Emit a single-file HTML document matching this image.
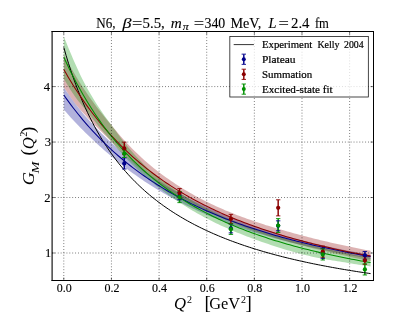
<!DOCTYPE html>
<html><head><meta charset="utf-8"><title>chart</title>
<style>html,body{margin:0;padding:0;background:#fff}svg{display:block;will-change:transform}text{fill:#000;stroke:#000;stroke-width:0.13px}.lg text{stroke-width:0.2px}.t text{stroke-width:0.1px}.ax text,text.ax{stroke-width:0}</style></head>
<body>
<svg width="415" height="312" viewBox="0 0 415 312">
<rect width="415" height="312" fill="#fff"/>
<clipPath id="c"><rect x="52.0" y="31.5" width="321.5" height="249.0"/></clipPath>
<g clip-path="url(#c)">
<path d="M63.79,87.37 L66.17,90.88 L68.55,94.34 L70.92,97.72 L73.30,101.02 L75.68,104.22 L78.06,107.31 L80.44,110.27 L82.82,113.13 L85.19,115.91 L87.57,118.62 L89.95,121.27 L92.33,123.86 L94.71,126.39 L97.09,128.86 L99.46,131.28 L101.84,133.65 L104.22,135.97 L106.60,138.25 L108.98,140.49 L111.36,142.70 L113.73,144.87 L116.11,147.02 L118.49,149.16 L120.87,151.27 L123.25,153.36 L125.63,155.43 L128.00,157.47 L130.38,159.48 L132.76,161.46 L135.14,163.42 L137.52,165.34 L139.90,167.23 L142.27,169.09 L144.65,170.91 L147.03,172.69 L149.41,174.44 L151.79,176.14 L154.17,177.80 L156.54,179.41 L158.92,180.98 L161.30,182.51 L163.68,184.01 L166.06,185.48 L168.44,186.92 L170.81,188.33 L173.19,189.72 L175.57,191.08 L177.95,192.42 L180.33,193.73 L182.71,195.02 L185.08,196.29 L187.46,197.54 L189.84,198.77 L192.22,199.98 L194.60,201.17 L196.98,202.34 L199.35,203.49 L201.73,204.63 L204.11,205.75 L206.49,206.86 L208.87,207.95 L211.25,209.03 L213.62,210.10 L216.00,211.15 L218.38,212.19 L220.76,213.22 L223.14,214.23 L225.51,215.22 L227.89,216.21 L230.27,217.18 L232.65,218.13 L235.03,219.07 L237.41,220.00 L239.78,220.91 L242.16,221.81 L244.54,222.69 L246.92,223.55 L249.30,224.41 L251.68,225.24 L254.05,226.07 L256.43,226.87 L258.81,227.67 L261.19,228.45 L263.57,229.23 L265.95,229.99 L268.32,230.74 L270.70,231.48 L273.08,232.21 L275.46,232.93 L277.84,233.64 L280.22,234.34 L282.59,235.03 L284.97,235.71 L287.35,236.38 L289.73,237.04 L292.11,237.69 L294.49,238.33 L296.86,238.97 L299.24,239.59 L301.62,240.21 L304.00,240.82 L306.38,241.41 L308.76,242.00 L311.13,242.59 L313.51,243.16 L315.89,243.73 L318.27,244.29 L320.65,244.84 L323.03,245.38 L325.40,245.92 L327.78,246.45 L330.16,246.97 L332.54,247.48 L334.92,247.99 L337.30,248.49 L339.67,248.98 L342.05,249.47 L344.43,249.95 L346.81,250.43 L349.19,250.90 L351.57,251.36 L353.94,251.82 L356.32,252.28 L358.70,252.72 L361.08,253.17 L363.46,253.60 L365.83,254.04 L368.21,254.47 L370.59,254.89 L370.59,258.77 L368.21,258.38 L365.83,257.97 L363.46,257.57 L361.08,257.15 L358.70,256.74 L356.32,256.31 L353.94,255.88 L351.57,255.45 L349.19,255.01 L346.81,254.57 L344.43,254.12 L342.05,253.66 L339.67,253.20 L337.30,252.73 L334.92,252.26 L332.54,251.78 L330.16,251.30 L327.78,250.81 L325.40,250.32 L323.03,249.81 L320.65,249.31 L318.27,248.80 L315.89,248.28 L313.51,247.76 L311.13,247.23 L308.76,246.69 L306.38,246.15 L304.00,245.61 L301.62,245.05 L299.24,244.49 L296.86,243.92 L294.49,243.35 L292.11,242.76 L289.73,242.17 L287.35,241.57 L284.97,240.96 L282.59,240.34 L280.22,239.72 L277.84,239.08 L275.46,238.44 L273.08,237.79 L270.70,237.12 L268.32,236.45 L265.95,235.76 L263.57,235.07 L261.19,234.36 L258.81,233.65 L256.43,232.92 L254.05,232.18 L251.68,231.42 L249.30,230.66 L246.92,229.88 L244.54,229.09 L242.16,228.29 L239.78,227.47 L237.41,226.65 L235.03,225.81 L232.65,224.95 L230.27,224.09 L227.89,223.20 L225.51,222.31 L223.14,221.40 L220.76,220.48 L218.38,219.54 L216.00,218.59 L213.62,217.62 L211.25,216.64 L208.87,215.65 L206.49,214.63 L204.11,213.60 L201.73,212.56 L199.35,211.49 L196.98,210.41 L194.60,209.31 L192.22,208.20 L189.84,207.06 L187.46,205.90 L185.08,204.73 L182.71,203.53 L180.33,202.32 L177.95,201.08 L175.57,199.83 L173.19,198.55 L170.81,197.25 L168.44,195.93 L166.06,194.59 L163.68,193.22 L161.30,191.83 L158.92,190.42 L156.54,188.98 L154.17,187.52 L151.79,186.03 L149.41,184.52 L147.03,182.98 L144.65,181.41 L142.27,179.81 L139.90,178.19 L137.52,176.54 L135.14,174.86 L132.76,173.15 L130.38,171.41 L128.00,169.63 L125.63,167.83 L123.25,165.99 L120.87,164.12 L118.49,162.22 L116.11,160.28 L113.73,158.30 L111.36,156.29 L108.98,154.25 L106.60,152.20 L104.22,150.13 L101.84,148.04 L99.46,145.92 L97.09,143.76 L94.71,141.58 L92.33,139.35 L89.95,137.07 L87.57,134.75 L85.19,132.40 L82.82,130.04 L80.44,127.65 L78.06,125.23 L75.68,122.77 L73.30,120.24 L70.92,117.66 L68.55,114.99 L66.17,112.24 L63.79,109.39Z" fill="#00008B" fill-opacity="0.3"/>
<path d="M63.79,54.69 L66.17,59.11 L68.55,63.42 L70.92,67.64 L73.30,71.75 L75.68,75.77 L78.06,79.69 L80.44,83.50 L82.82,87.22 L85.19,90.84 L87.57,94.36 L89.95,97.78 L92.33,101.10 L94.71,104.33 L97.09,107.47 L99.46,110.55 L101.84,113.56 L104.22,116.51 L106.60,119.42 L108.98,122.29 L111.36,125.12 L113.73,127.97 L116.11,130.84 L118.49,133.69 L120.87,136.49 L123.25,139.18 L125.63,141.76 L128.00,144.28 L130.38,146.74 L132.76,149.15 L135.14,151.51 L137.52,153.82 L139.90,156.08 L142.27,158.28 L144.65,160.43 L147.03,162.53 L149.41,164.57 L151.79,166.56 L154.17,168.49 L156.54,170.37 L158.92,172.19 L161.30,173.97 L163.68,175.71 L166.06,177.42 L168.44,179.09 L170.81,180.73 L173.19,182.34 L175.57,183.92 L177.95,185.47 L180.33,186.98 L182.71,188.47 L185.08,189.92 L187.46,191.35 L189.84,192.74 L192.22,194.11 L194.60,195.44 L196.98,196.75 L199.35,198.03 L201.73,199.28 L204.11,200.50 L206.49,201.70 L208.87,202.86 L211.25,204.00 L213.62,205.12 L216.00,206.22 L218.38,207.29 L220.76,208.34 L223.14,209.37 L225.51,210.38 L227.89,211.37 L230.27,212.34 L232.65,213.29 L235.03,214.23 L237.41,215.15 L239.78,216.05 L242.16,216.94 L244.54,217.82 L246.92,218.68 L249.30,219.53 L251.68,220.37 L254.05,221.20 L256.43,222.01 L258.81,222.81 L261.19,223.60 L263.57,224.37 L265.95,225.13 L268.32,225.87 L270.70,226.61 L273.08,227.33 L275.46,228.04 L277.84,228.74 L280.22,229.43 L282.59,230.11 L284.97,230.79 L287.35,231.45 L289.73,232.11 L292.11,232.77 L294.49,233.42 L296.86,234.06 L299.24,234.70 L301.62,235.33 L304.00,235.96 L306.38,236.58 L308.76,237.19 L311.13,237.80 L313.51,238.40 L315.89,238.99 L318.27,239.58 L320.65,240.16 L323.03,240.73 L325.40,241.29 L327.78,241.85 L330.16,242.40 L332.54,242.95 L334.92,243.49 L337.30,244.02 L339.67,244.54 L342.05,245.06 L344.43,245.58 L346.81,246.08 L349.19,246.58 L351.57,247.08 L353.94,247.56 L356.32,248.04 L358.70,248.52 L361.08,248.99 L363.46,249.45 L365.83,249.91 L368.21,250.36 L370.59,250.80 L370.59,261.06 L368.21,260.60 L365.83,260.13 L363.46,259.65 L361.08,259.17 L358.70,258.67 L356.32,258.17 L353.94,257.67 L351.57,257.16 L349.19,256.64 L346.81,256.12 L344.43,255.59 L342.05,255.06 L339.67,254.52 L337.30,253.98 L334.92,253.44 L332.54,252.89 L330.16,252.34 L327.78,251.79 L325.40,251.23 L323.03,250.67 L320.65,250.11 L318.27,249.54 L315.89,248.97 L313.51,248.39 L311.13,247.80 L308.76,247.20 L306.38,246.60 L304.00,245.99 L301.62,245.38 L299.24,244.75 L296.86,244.12 L294.49,243.48 L292.11,242.83 L289.73,242.17 L287.35,241.50 L284.97,240.82 L282.59,240.13 L280.22,239.42 L277.84,238.71 L275.46,237.99 L273.08,237.25 L270.70,236.51 L268.32,235.75 L265.95,234.97 L263.57,234.19 L261.19,233.39 L258.81,232.57 L256.43,231.75 L254.05,230.90 L251.68,230.04 L249.30,229.17 L246.92,228.27 L244.54,227.36 L242.16,226.44 L239.78,225.49 L237.41,224.53 L235.03,223.56 L232.65,222.56 L230.27,221.55 L227.89,220.53 L225.51,219.49 L223.14,218.43 L220.76,217.35 L218.38,216.26 L216.00,215.16 L213.62,214.04 L211.25,212.90 L208.87,211.74 L206.49,210.57 L204.11,209.39 L201.73,208.21 L199.35,207.01 L196.98,205.81 L194.60,204.59 L192.22,203.36 L189.84,202.11 L187.46,200.84 L185.08,199.55 L182.71,198.24 L180.33,196.90 L177.95,195.53 L175.57,194.13 L173.19,192.70 L170.81,191.24 L168.44,189.73 L166.06,188.19 L163.68,186.60 L161.30,184.97 L158.92,183.29 L156.54,181.57 L154.17,179.82 L151.79,178.03 L149.41,176.21 L147.03,174.34 L144.65,172.45 L142.27,170.51 L139.90,168.53 L137.52,166.51 L135.14,164.45 L132.76,162.34 L130.38,160.19 L128.00,158.00 L125.63,155.75 L123.25,153.46 L120.87,151.14 L118.49,148.79 L116.11,146.40 L113.73,143.97 L111.36,141.49 L108.98,139.06 L106.60,136.72 L104.22,134.42 L101.84,132.11 L99.46,129.74 L97.09,127.35 L94.71,124.99 L92.33,122.60 L89.95,120.18 L87.57,117.67 L85.19,115.12 L82.82,112.55 L80.44,109.89 L78.06,107.12 L75.68,104.16 L73.30,101.03 L70.92,97.75 L68.55,94.34 L66.17,90.82 L63.79,87.20Z" fill="#8B0000" fill-opacity="0.3"/>
<path d="M63.79,36.39 L66.17,42.31 L68.55,48.14 L70.92,53.85 L73.30,59.42 L75.68,64.84 L78.06,70.09 L80.44,75.14 L82.82,79.98 L85.19,84.59 L87.57,88.95 L89.95,93.09 L92.33,97.08 L94.71,100.92 L97.09,104.64 L99.46,108.25 L101.84,111.76 L104.22,115.19 L106.60,118.55 L108.98,121.85 L111.36,125.11 L113.73,128.35 L116.11,131.56 L118.49,134.74 L120.87,137.88 L123.25,140.96 L125.63,143.98 L128.00,146.92 L130.38,149.78 L132.76,152.54 L135.14,155.20 L137.52,157.77 L139.90,160.30 L142.27,162.77 L144.65,165.19 L147.03,167.54 L149.41,169.82 L151.79,172.02 L154.17,174.13 L156.54,176.16 L158.92,178.08 L161.30,179.93 L163.68,181.74 L166.06,183.50 L168.44,185.23 L170.81,186.93 L173.19,188.58 L175.57,190.20 L177.95,191.78 L180.33,193.34 L182.71,194.85 L185.08,196.34 L187.46,197.80 L189.84,199.22 L192.22,200.61 L194.60,201.98 L196.98,203.32 L199.35,204.63 L201.73,205.91 L204.11,207.17 L206.49,208.41 L208.87,209.61 L211.25,210.79 L213.62,211.95 L216.00,213.08 L218.38,214.19 L220.76,215.27 L223.14,216.33 L225.51,217.37 L227.89,218.39 L230.27,219.40 L232.65,220.38 L235.03,221.34 L237.41,222.29 L239.78,223.23 L242.16,224.15 L244.54,225.05 L246.92,225.94 L249.30,226.82 L251.68,227.69 L254.05,228.54 L256.43,229.38 L258.81,230.21 L261.19,231.03 L263.57,231.83 L265.95,232.62 L268.32,233.39 L270.70,234.16 L273.08,234.91 L275.46,235.65 L277.84,236.37 L280.22,237.09 L282.59,237.79 L284.97,238.48 L287.35,239.16 L289.73,239.83 L292.11,240.49 L294.49,241.15 L296.86,241.79 L299.24,242.42 L301.62,243.04 L304.00,243.65 L306.38,244.25 L308.76,244.84 L311.13,245.43 L313.51,246.00 L315.89,246.57 L318.27,247.13 L320.65,247.68 L323.03,248.22 L325.40,248.76 L327.78,249.29 L330.16,249.81 L332.54,250.33 L334.92,250.85 L337.30,251.36 L339.67,251.86 L342.05,252.36 L344.43,252.85 L346.81,253.34 L349.19,253.82 L351.57,254.30 L353.94,254.77 L356.32,255.23 L358.70,255.69 L361.08,256.14 L363.46,256.58 L365.83,257.02 L368.21,257.45 L370.59,257.87 L370.59,266.47 L368.21,266.12 L365.83,265.77 L363.46,265.41 L361.08,265.04 L358.70,264.67 L356.32,264.30 L353.94,263.91 L351.57,263.53 L349.19,263.14 L346.81,262.76 L344.43,262.37 L342.05,261.99 L339.67,261.61 L337.30,261.22 L334.92,260.83 L332.54,260.44 L330.16,260.04 L327.78,259.63 L325.40,259.21 L323.03,258.78 L320.65,258.34 L318.27,257.88 L315.89,257.41 L313.51,256.91 L311.13,256.40 L308.76,255.87 L306.38,255.31 L304.00,254.74 L301.62,254.13 L299.24,253.51 L296.86,252.87 L294.49,252.21 L292.11,251.54 L289.73,250.86 L287.35,250.16 L284.97,249.44 L282.59,248.72 L280.22,247.98 L277.84,247.23 L275.46,246.47 L273.08,245.69 L270.70,244.90 L268.32,244.10 L265.95,243.29 L263.57,242.47 L261.19,241.64 L258.81,240.79 L256.43,239.94 L254.05,239.08 L251.68,238.20 L249.30,237.31 L246.92,236.41 L244.54,235.49 L242.16,234.56 L239.78,233.61 L237.41,232.65 L235.03,231.67 L232.65,230.67 L230.27,229.65 L227.89,228.62 L225.51,227.57 L223.14,226.49 L220.76,225.40 L218.38,224.29 L216.00,223.15 L213.62,222.00 L211.25,220.82 L208.87,219.62 L206.49,218.39 L204.11,217.14 L201.73,215.85 L199.35,214.54 L196.98,213.21 L194.60,211.84 L192.22,210.45 L189.84,209.02 L187.46,207.57 L185.08,206.09 L182.71,204.58 L180.33,203.04 L177.95,201.47 L175.57,199.87 L173.19,198.24 L170.81,196.58 L168.44,194.88 L166.06,193.16 L163.68,191.40 L161.30,189.61 L158.92,187.79 L156.54,185.93 L154.17,184.03 L151.79,182.09 L149.41,180.11 L147.03,178.08 L144.65,176.01 L142.27,173.90 L139.90,171.74 L137.52,169.52 L135.14,167.26 L132.76,164.95 L130.38,162.58 L128.00,160.16 L125.63,157.68 L123.25,155.14 L120.87,152.54 L118.49,149.88 L116.11,147.15 L113.73,144.35 L111.36,141.49 L108.98,138.63 L106.60,135.83 L104.22,133.05 L101.84,130.23 L99.46,127.33 L97.09,124.36 L94.71,121.37 L92.33,118.36 L89.95,115.32 L87.57,112.26 L85.19,109.30 L82.82,106.45 L80.44,103.61 L78.06,100.67 L75.68,97.49 L73.30,94.08 L70.92,90.50 L68.55,86.76 L66.17,82.87 L63.79,78.82Z" fill="#009000" fill-opacity="0.3"/>
<line x1="124.29" y1="157.87" x2="124.29" y2="168.96" stroke="#00008B" stroke-width="1.45"/>
<line x1="179.56" y1="192.48" x2="179.56" y2="199.69" stroke="#00008B" stroke-width="1.45"/>
<line x1="230.91" y1="223.99" x2="230.91" y2="232.86" stroke="#00008B" stroke-width="1.45"/>
<line x1="278.17" y1="220.83" x2="278.17" y2="230.81" stroke="#00008B" stroke-width="1.45"/>
<line x1="322.78" y1="248.34" x2="322.78" y2="258.33" stroke="#00008B" stroke-width="1.45"/>
<line x1="364.87" y1="251.45" x2="364.87" y2="259.21" stroke="#00008B" stroke-width="1.45"/>
<line x1="124.29" y1="142.17" x2="124.29" y2="154.60" stroke="#8B0000" stroke-width="1.45"/>
<line x1="179.56" y1="188.54" x2="179.56" y2="197.64" stroke="#8B0000" stroke-width="1.45"/>
<line x1="230.91" y1="214.39" x2="230.91" y2="223.49" stroke="#8B0000" stroke-width="1.45"/>
<line x1="278.17" y1="199.80" x2="278.17" y2="215.89" stroke="#8B0000" stroke-width="1.45"/>
<line x1="322.78" y1="246.07" x2="322.78" y2="257.16" stroke="#8B0000" stroke-width="1.45"/>
<line x1="364.87" y1="256.55" x2="364.87" y2="264.32" stroke="#8B0000" stroke-width="1.45"/>
<line x1="124.29" y1="149.71" x2="124.29" y2="157.48" stroke="#009000" stroke-width="1.45"/>
<line x1="179.56" y1="191.54" x2="179.56" y2="202.63" stroke="#009000" stroke-width="1.45"/>
<line x1="230.91" y1="223.88" x2="230.91" y2="234.42" stroke="#009000" stroke-width="1.45"/>
<line x1="278.17" y1="218.61" x2="278.17" y2="232.48" stroke="#009000" stroke-width="1.45"/>
<line x1="322.78" y1="248.90" x2="322.78" y2="259.99" stroke="#009000" stroke-width="1.45"/>
<line x1="364.87" y1="263.87" x2="364.87" y2="274.97" stroke="#009000" stroke-width="1.45"/>
<path d="M63.79,47.43 L66.17,55.68 L68.55,63.45 L70.92,70.79 L73.30,77.73 L75.68,84.31 L78.06,90.56 L80.44,96.50 L82.82,102.14 L85.19,107.53 L87.57,112.67 L89.95,117.57 L92.33,122.27 L94.71,126.76 L97.09,131.07 L99.46,135.20 L101.84,139.16 L104.22,142.97 L106.60,146.64 L108.98,150.17 L111.36,153.56 L113.73,156.84 L116.11,160.00 L118.49,163.05 L120.87,165.99 L123.25,168.84 L125.63,171.59 L128.00,174.25 L130.38,176.83 L132.76,179.33 L135.14,181.74 L137.52,184.09 L139.90,186.37 L142.27,188.57 L144.65,190.72 L147.03,192.80 L149.41,194.82 L151.79,196.79 L154.17,198.70 L156.54,200.56 L158.92,202.38 L161.30,204.14 L163.68,205.86 L166.06,207.53 L168.44,209.16 L170.81,210.75 L173.19,212.30 L175.57,213.81 L177.95,215.28 L180.33,216.72 L182.71,218.13 L185.08,219.50 L187.46,220.84 L189.84,222.15 L192.22,223.43 L194.60,224.68 L196.98,225.90 L199.35,227.10 L201.73,228.26 L204.11,229.41 L206.49,230.53 L208.87,231.62 L211.25,232.69 L213.62,233.74 L216.00,234.77 L218.38,235.78 L220.76,236.77 L223.14,237.73 L225.51,238.68 L227.89,239.61 L230.27,240.52 L232.65,241.41 L235.03,242.28 L237.41,243.14 L239.78,243.98 L242.16,244.81 L244.54,245.62 L246.92,246.41 L249.30,247.19 L251.68,247.96 L254.05,248.71 L256.43,249.45 L258.81,250.17 L261.19,250.88 L263.57,251.58 L265.95,252.27 L268.32,252.94 L270.70,253.61 L273.08,254.26 L275.46,254.90 L277.84,255.53 L280.22,256.14 L282.59,256.75 L284.97,257.35 L287.35,257.94 L289.73,258.51 L292.11,259.08 L294.49,259.64 L296.86,260.19 L299.24,260.73 L301.62,261.26 L304.00,261.79 L306.38,262.30 L308.76,262.81 L311.13,263.31 L313.51,263.80 L315.89,264.28 L318.27,264.76 L320.65,265.23 L323.03,265.69 L325.40,266.14 L327.78,266.59 L330.16,267.03 L332.54,267.46 L334.92,267.89 L337.30,268.31 L339.67,268.73 L342.05,269.14 L344.43,269.54 L346.81,269.94 L349.19,270.33 L351.57,270.71 L353.94,271.09 L356.32,271.46 L358.70,271.83 L361.08,272.20 L363.46,272.56 L365.83,272.91 L368.21,273.26 L370.59,273.60" fill="none" stroke="#000" stroke-width="1.0"/>
<path d="M63.79,94.97 L66.17,98.33 L68.55,101.61 L70.92,104.82 L73.30,107.95 L75.68,111.01 L78.06,114.01 L80.44,116.93 L82.82,119.79 L85.19,122.58 L87.57,125.32 L89.95,127.99 L92.33,130.61 L94.71,133.17 L97.09,135.67 L99.46,138.12 L101.84,140.52 L104.22,142.87 L106.60,145.17 L108.98,147.42 L111.36,149.63 L113.73,151.79 L116.11,153.91 L118.49,155.98 L120.87,158.02 L123.25,160.01 L125.63,161.96 L128.00,163.88 L130.38,165.75 L132.76,167.60 L135.14,169.40 L137.52,171.17 L139.90,172.91 L142.27,174.62 L144.65,176.29 L147.03,177.93 L149.41,179.54 L151.79,181.13 L154.17,182.68 L156.54,184.20 L158.92,185.70 L161.30,187.17 L163.68,188.62 L166.06,190.03 L168.44,191.43 L170.81,192.80 L173.19,194.14 L175.57,195.46 L177.95,196.76 L180.33,198.04 L182.71,199.29 L185.08,200.53 L187.46,201.74 L189.84,202.93 L192.22,204.11 L194.60,205.26 L196.98,206.39 L199.35,207.51 L201.73,208.61 L204.11,209.69 L206.49,210.75 L208.87,211.79 L211.25,212.82 L213.62,213.83 L216.00,214.83 L218.38,215.81 L220.76,216.78 L223.14,217.73 L225.51,218.66 L227.89,219.58 L230.27,220.49 L232.65,221.38 L235.03,222.26 L237.41,223.13 L239.78,223.98 L242.16,224.82 L244.54,225.65 L246.92,226.47 L249.30,227.27 L251.68,228.06 L254.05,228.84 L256.43,229.61 L258.81,230.37 L261.19,231.12 L263.57,231.86 L265.95,232.58 L268.32,233.30 L270.70,234.00 L273.08,234.70 L275.46,235.39 L277.84,236.06 L280.22,236.73 L282.59,237.39 L284.97,238.04 L287.35,238.68 L289.73,239.31 L292.11,239.93 L294.49,240.55 L296.86,241.15 L299.24,241.75 L301.62,242.34 L304.00,242.92 L306.38,243.50 L308.76,244.07 L311.13,244.63 L313.51,245.18 L315.89,245.73 L318.27,246.26 L320.65,246.80 L323.03,247.32 L325.40,247.84 L327.78,248.35 L330.16,248.86 L332.54,249.35 L334.92,249.85 L337.30,250.33 L339.67,250.81 L342.05,251.29 L344.43,251.76 L346.81,252.22 L349.19,252.68 L351.57,253.13 L353.94,253.58 L356.32,254.02 L358.70,254.45 L361.08,254.88 L363.46,255.31 L365.83,255.73 L368.21,256.14 L370.59,256.55" fill="none" stroke="#00008B" stroke-width="1.05"/>
<path d="M63.79,69.45 L66.17,73.60 L68.55,77.65 L70.92,81.59 L73.30,85.44 L75.68,89.18 L78.06,92.83 L80.44,96.40 L82.82,99.87 L85.19,103.26 L87.57,106.57 L89.95,109.80 L92.33,112.95 L94.71,116.03 L97.09,119.03 L99.46,121.97 L101.84,124.83 L104.22,127.64 L106.60,130.37 L108.98,133.05 L111.36,135.67 L113.73,138.23 L116.11,140.73 L118.49,143.18 L120.87,145.57 L123.25,147.91 L125.63,150.20 L128.00,152.45 L130.38,154.64 L132.76,156.79 L135.14,158.90 L137.52,160.96 L139.90,162.98 L142.27,164.96 L144.65,166.90 L147.03,168.80 L149.41,170.66 L151.79,172.48 L154.17,174.27 L156.54,176.03 L158.92,177.74 L161.30,179.43 L163.68,181.08 L166.06,182.71 L168.44,184.30 L170.81,185.86 L173.19,187.39 L175.57,188.89 L177.95,190.37 L180.33,191.82 L182.71,193.24 L185.08,194.64 L187.46,196.01 L189.84,197.35 L192.22,198.67 L194.60,199.97 L196.98,201.25 L199.35,202.50 L201.73,203.73 L204.11,204.94 L206.49,206.13 L208.87,207.30 L211.25,208.45 L213.62,209.58 L216.00,210.69 L218.38,211.78 L220.76,212.86 L223.14,213.91 L225.51,214.95 L227.89,215.97 L230.27,216.98 L232.65,217.97 L235.03,218.94 L237.41,219.90 L239.78,220.84 L242.16,221.77 L244.54,222.68 L246.92,223.58 L249.30,224.46 L251.68,225.33 L254.05,226.19 L256.43,227.03 L258.81,227.86 L261.19,228.68 L263.57,229.49 L265.95,230.28 L268.32,231.06 L270.70,231.83 L273.08,232.59 L275.46,233.34 L277.84,234.07 L280.22,234.80 L282.59,235.51 L284.97,236.22 L287.35,236.91 L289.73,237.60 L292.11,238.27 L294.49,238.94 L296.86,239.59 L299.24,240.24 L301.62,240.88 L304.00,241.51 L306.38,242.13 L308.76,242.74 L311.13,243.34 L313.51,243.93 L315.89,244.52 L318.27,245.10 L320.65,245.67 L323.03,246.23 L325.40,246.79 L327.78,247.34 L330.16,247.88 L332.54,248.41 L334.92,248.94 L337.30,249.46 L339.67,249.97 L342.05,250.48 L344.43,250.98 L346.81,251.47 L349.19,251.96 L351.57,252.44 L353.94,252.91 L356.32,253.38 L358.70,253.84 L361.08,254.30 L363.46,254.75 L365.83,255.20 L368.21,255.64 L370.59,256.07" fill="none" stroke="#8B0000" stroke-width="1.05"/>
<path d="M63.79,57.19 L66.17,62.33 L68.55,67.32 L70.92,72.15 L73.30,76.84 L75.68,81.40 L78.06,85.82 L80.44,90.11 L82.82,94.28 L85.19,98.33 L87.57,102.26 L89.95,106.09 L92.33,109.81 L94.71,113.43 L97.09,116.96 L99.46,120.38 L101.84,123.72 L104.22,126.97 L106.60,130.13 L108.98,133.21 L111.36,136.22 L113.73,139.14 L116.11,141.99 L118.49,144.77 L120.87,147.48 L123.25,150.13 L125.63,152.71 L128.00,155.23 L130.38,157.68 L132.76,160.08 L135.14,162.42 L137.52,164.71 L139.90,166.94 L142.27,169.12 L144.65,171.26 L147.03,173.34 L149.41,175.37 L151.79,177.36 L154.17,179.31 L156.54,181.21 L158.92,183.07 L161.30,184.89 L163.68,186.68 L166.06,188.42 L168.44,190.13 L170.81,191.79 L173.19,193.43 L175.57,195.03 L177.95,196.60 L180.33,198.13 L182.71,199.64 L185.08,201.11 L187.46,202.55 L189.84,203.97 L192.22,205.35 L194.60,206.71 L196.98,208.05 L199.35,209.35 L201.73,210.63 L204.11,211.89 L206.49,213.12 L208.87,214.33 L211.25,215.52 L213.62,216.68 L216.00,217.82 L218.38,218.94 L220.76,220.04 L223.14,221.12 L225.51,222.18 L227.89,223.22 L230.27,224.25 L232.65,225.25 L235.03,226.24 L237.41,227.21 L239.78,228.16 L242.16,229.09 L244.54,230.01 L246.92,230.92 L249.30,231.80 L251.68,232.68 L254.05,233.53 L256.43,234.38 L258.81,235.21 L261.19,236.02 L263.57,236.82 L265.95,237.61 L268.32,238.39 L270.70,239.15 L273.08,239.90 L275.46,240.64 L277.84,241.36 L280.22,242.08 L282.59,242.78 L284.97,243.47 L287.35,244.16 L289.73,244.83 L292.11,245.49 L294.49,246.14 L296.86,246.78 L299.24,247.41 L301.62,248.03 L304.00,248.64 L306.38,249.24 L308.76,249.83 L311.13,250.42 L313.51,250.99 L315.89,251.56 L318.27,252.12 L320.65,252.67 L323.03,253.21 L325.40,253.75 L327.78,254.27 L330.16,254.79 L332.54,255.31 L334.92,255.81 L337.30,256.31 L339.67,256.80 L342.05,257.28 L344.43,257.76 L346.81,258.23 L349.19,258.69 L351.57,259.15 L353.94,259.60 L356.32,260.04 L358.70,260.48 L361.08,260.92 L363.46,261.34 L365.83,261.76 L368.21,262.18 L370.59,262.59" fill="none" stroke="#009000" stroke-width="1.05"/>
</g>
<line x1="63.79" y1="31.5" x2="63.79" y2="280.5" stroke="#000" stroke-width="0.6" stroke-dasharray="0.85 2.05"/>
<line x1="111.43" y1="31.5" x2="111.43" y2="280.5" stroke="#000" stroke-width="0.6" stroke-dasharray="0.85 2.05"/>
<line x1="159.07" y1="31.5" x2="159.07" y2="280.5" stroke="#000" stroke-width="0.6" stroke-dasharray="0.85 2.05"/>
<line x1="206.71" y1="31.5" x2="206.71" y2="280.5" stroke="#000" stroke-width="0.6" stroke-dasharray="0.85 2.05"/>
<line x1="254.35" y1="31.5" x2="254.35" y2="280.5" stroke="#000" stroke-width="0.6" stroke-dasharray="0.85 2.05"/>
<line x1="301.99" y1="31.5" x2="301.99" y2="280.5" stroke="#000" stroke-width="0.6" stroke-dasharray="0.85 2.05"/>
<line x1="349.63" y1="31.5" x2="349.63" y2="280.5" stroke="#000" stroke-width="0.6" stroke-dasharray="0.85 2.05"/>
<line x1="52.0" y1="253.00" x2="373.5" y2="253.00" stroke="#000" stroke-width="0.6" stroke-dasharray="0.85 2.05"/>
<line x1="52.0" y1="197.53" x2="373.5" y2="197.53" stroke="#000" stroke-width="0.6" stroke-dasharray="0.85 2.05"/>
<line x1="52.0" y1="142.06" x2="373.5" y2="142.06" stroke="#000" stroke-width="0.6" stroke-dasharray="0.85 2.05"/>
<line x1="52.0" y1="86.59" x2="373.5" y2="86.59" stroke="#000" stroke-width="0.6" stroke-dasharray="0.85 2.05"/>
<g stroke="#00008B"><line x1="122.09" y1="157.87" x2="126.49" y2="157.87" stroke-width="0.9"/><line x1="122.09" y1="168.96" x2="126.49" y2="168.96" stroke-width="0.9"/></g>
<g stroke="#00008B"><line x1="177.36" y1="192.48" x2="181.76" y2="192.48" stroke-width="0.9"/><line x1="177.36" y1="199.69" x2="181.76" y2="199.69" stroke-width="0.9"/></g>
<g stroke="#00008B"><line x1="228.71" y1="223.99" x2="233.11" y2="223.99" stroke-width="0.9"/><line x1="228.71" y1="232.86" x2="233.11" y2="232.86" stroke-width="0.9"/></g>
<g stroke="#00008B"><line x1="275.97" y1="220.83" x2="280.37" y2="220.83" stroke-width="0.9"/><line x1="275.97" y1="230.81" x2="280.37" y2="230.81" stroke-width="0.9"/></g>
<g stroke="#00008B"><line x1="320.58" y1="248.34" x2="324.98" y2="248.34" stroke-width="0.9"/><line x1="320.58" y1="258.33" x2="324.98" y2="258.33" stroke-width="0.9"/></g>
<g stroke="#00008B"><line x1="362.67" y1="251.45" x2="367.07" y2="251.45" stroke-width="0.9"/><line x1="362.67" y1="259.21" x2="367.07" y2="259.21" stroke-width="0.9"/></g>
<g stroke="#8B0000"><line x1="122.09" y1="142.17" x2="126.49" y2="142.17" stroke-width="0.9"/><line x1="122.09" y1="154.60" x2="126.49" y2="154.60" stroke-width="0.9"/></g>
<g stroke="#8B0000"><line x1="177.36" y1="188.54" x2="181.76" y2="188.54" stroke-width="0.9"/><line x1="177.36" y1="197.64" x2="181.76" y2="197.64" stroke-width="0.9"/></g>
<g stroke="#8B0000"><line x1="228.71" y1="214.39" x2="233.11" y2="214.39" stroke-width="0.9"/><line x1="228.71" y1="223.49" x2="233.11" y2="223.49" stroke-width="0.9"/></g>
<g stroke="#8B0000"><line x1="275.97" y1="199.80" x2="280.37" y2="199.80" stroke-width="0.9"/><line x1="275.97" y1="215.89" x2="280.37" y2="215.89" stroke-width="0.9"/></g>
<g stroke="#8B0000"><line x1="320.58" y1="246.07" x2="324.98" y2="246.07" stroke-width="0.9"/><line x1="320.58" y1="257.16" x2="324.98" y2="257.16" stroke-width="0.9"/></g>
<g stroke="#8B0000"><line x1="362.67" y1="256.55" x2="367.07" y2="256.55" stroke-width="0.9"/><line x1="362.67" y1="264.32" x2="367.07" y2="264.32" stroke-width="0.9"/></g>
<g stroke="#009000"><line x1="122.09" y1="149.71" x2="126.49" y2="149.71" stroke-width="0.9"/><line x1="122.09" y1="157.48" x2="126.49" y2="157.48" stroke-width="0.9"/></g>
<g stroke="#009000"><line x1="177.36" y1="191.54" x2="181.76" y2="191.54" stroke-width="0.9"/><line x1="177.36" y1="202.63" x2="181.76" y2="202.63" stroke-width="0.9"/></g>
<g stroke="#009000"><line x1="228.71" y1="223.88" x2="233.11" y2="223.88" stroke-width="0.9"/><line x1="228.71" y1="234.42" x2="233.11" y2="234.42" stroke-width="0.9"/></g>
<g stroke="#009000"><line x1="275.97" y1="218.61" x2="280.37" y2="218.61" stroke-width="0.9"/><line x1="275.97" y1="232.48" x2="280.37" y2="232.48" stroke-width="0.9"/></g>
<g stroke="#009000"><line x1="320.58" y1="248.90" x2="324.98" y2="248.90" stroke-width="0.9"/><line x1="320.58" y1="259.99" x2="324.98" y2="259.99" stroke-width="0.9"/></g>
<g stroke="#009000"><line x1="362.67" y1="263.87" x2="367.07" y2="263.87" stroke-width="0.9"/><line x1="362.67" y1="274.97" x2="367.07" y2="274.97" stroke-width="0.9"/></g>
<circle cx="124.29" cy="163.42" r="2.15" fill="#00008B"/>
<circle cx="179.56" cy="196.09" r="2.15" fill="#00008B"/>
<circle cx="230.91" cy="228.43" r="2.15" fill="#00008B"/>
<circle cx="278.17" cy="225.82" r="2.15" fill="#00008B"/>
<circle cx="322.78" cy="253.33" r="2.15" fill="#00008B"/>
<circle cx="364.87" cy="255.33" r="2.15" fill="#00008B"/>
<circle cx="124.29" cy="148.38" r="2.15" fill="#8B0000"/>
<circle cx="179.56" cy="193.09" r="2.15" fill="#8B0000"/>
<circle cx="230.91" cy="218.94" r="2.15" fill="#8B0000"/>
<circle cx="278.17" cy="207.85" r="2.15" fill="#8B0000"/>
<circle cx="322.78" cy="251.61" r="2.15" fill="#8B0000"/>
<circle cx="364.87" cy="260.43" r="2.15" fill="#8B0000"/>
<circle cx="124.29" cy="153.60" r="2.15" fill="#009000"/>
<circle cx="179.56" cy="197.09" r="2.15" fill="#009000"/>
<circle cx="230.91" cy="229.15" r="2.15" fill="#009000"/>
<circle cx="278.17" cy="225.54" r="2.15" fill="#009000"/>
<circle cx="322.78" cy="254.44" r="2.15" fill="#009000"/>
<circle cx="364.87" cy="269.42" r="2.15" fill="#009000"/>
<line x1="52.1" y1="31.0" x2="52.1" y2="281.0" stroke="#000" stroke-width="1.1"/>
<line x1="373.5" y1="31.0" x2="373.5" y2="281.0" stroke="#000" stroke-width="1"/>
<line x1="51.5" y1="31.5" x2="374.0" y2="31.5" stroke="#000" stroke-width="1"/>
<line x1="51.5" y1="280.5" x2="374.0" y2="280.5" stroke="#000" stroke-width="1"/>
<line x1="63.79" y1="280.5" x2="63.79" y2="277.5" stroke="#000" stroke-width="0.5"/>
<line x1="63.79" y1="31.5" x2="63.79" y2="34.5" stroke="#000" stroke-width="0.5"/>
<line x1="111.43" y1="280.5" x2="111.43" y2="277.5" stroke="#000" stroke-width="0.5"/>
<line x1="111.43" y1="31.5" x2="111.43" y2="34.5" stroke="#000" stroke-width="0.5"/>
<line x1="159.07" y1="280.5" x2="159.07" y2="277.5" stroke="#000" stroke-width="0.5"/>
<line x1="159.07" y1="31.5" x2="159.07" y2="34.5" stroke="#000" stroke-width="0.5"/>
<line x1="206.71" y1="280.5" x2="206.71" y2="277.5" stroke="#000" stroke-width="0.5"/>
<line x1="206.71" y1="31.5" x2="206.71" y2="34.5" stroke="#000" stroke-width="0.5"/>
<line x1="254.35" y1="280.5" x2="254.35" y2="277.5" stroke="#000" stroke-width="0.5"/>
<line x1="254.35" y1="31.5" x2="254.35" y2="34.5" stroke="#000" stroke-width="0.5"/>
<line x1="301.99" y1="280.5" x2="301.99" y2="277.5" stroke="#000" stroke-width="0.5"/>
<line x1="301.99" y1="31.5" x2="301.99" y2="34.5" stroke="#000" stroke-width="0.5"/>
<line x1="349.63" y1="280.5" x2="349.63" y2="277.5" stroke="#000" stroke-width="0.5"/>
<line x1="349.63" y1="31.5" x2="349.63" y2="34.5" stroke="#000" stroke-width="0.5"/>
<line x1="52.0" y1="253.00" x2="55.0" y2="253.00" stroke="#000" stroke-width="0.5"/>
<line x1="373.5" y1="253.00" x2="370.5" y2="253.00" stroke="#000" stroke-width="0.5"/>
<line x1="52.0" y1="197.53" x2="55.0" y2="197.53" stroke="#000" stroke-width="0.5"/>
<line x1="373.5" y1="197.53" x2="370.5" y2="197.53" stroke="#000" stroke-width="0.5"/>
<line x1="52.0" y1="142.06" x2="55.0" y2="142.06" stroke="#000" stroke-width="0.5"/>
<line x1="373.5" y1="142.06" x2="370.5" y2="142.06" stroke="#000" stroke-width="0.5"/>
<line x1="52.0" y1="86.59" x2="55.0" y2="86.59" stroke="#000" stroke-width="0.5"/>
<line x1="373.5" y1="86.59" x2="370.5" y2="86.59" stroke="#000" stroke-width="0.5"/>
<text x="64.29" y="291.5" font-size="12.3" text-anchor="middle" textLength="15" lengthAdjust="spacingAndGlyphs" font-family="Liberation Serif, serif">0.0</text>
<text x="111.93" y="291.5" font-size="12.3" text-anchor="middle" textLength="15" lengthAdjust="spacingAndGlyphs" font-family="Liberation Serif, serif">0.2</text>
<text x="159.57" y="291.5" font-size="12.3" text-anchor="middle" textLength="15" lengthAdjust="spacingAndGlyphs" font-family="Liberation Serif, serif">0.4</text>
<text x="207.21" y="291.5" font-size="12.3" text-anchor="middle" textLength="15" lengthAdjust="spacingAndGlyphs" font-family="Liberation Serif, serif">0.6</text>
<text x="254.85" y="291.5" font-size="12.3" text-anchor="middle" textLength="15" lengthAdjust="spacingAndGlyphs" font-family="Liberation Serif, serif">0.8</text>
<text x="302.49" y="291.5" font-size="12.3" text-anchor="middle" textLength="15" lengthAdjust="spacingAndGlyphs" font-family="Liberation Serif, serif">1.0</text>
<text x="350.13" y="291.5" font-size="12.3" text-anchor="middle" textLength="15" lengthAdjust="spacingAndGlyphs" font-family="Liberation Serif, serif">1.2</text>
<text x="51.2" y="257.00" font-size="12.3" text-anchor="end" textLength="6.3" lengthAdjust="spacingAndGlyphs" font-family="Liberation Serif, serif">1</text>
<text x="50.5" y="201.53" font-size="12.3" text-anchor="end" textLength="6.3" lengthAdjust="spacingAndGlyphs" font-family="Liberation Serif, serif">2</text>
<text x="51.0" y="146.06" font-size="12.3" text-anchor="end" textLength="6.3" lengthAdjust="spacingAndGlyphs" font-family="Liberation Serif, serif">3</text>
<text x="50.1" y="90.59" font-size="12.3" text-anchor="end" textLength="6.3" lengthAdjust="spacingAndGlyphs" font-family="Liberation Serif, serif">4</text>
<g class="t">
<text x="96.2" y="27.9" font-size="14" textLength="19.3" lengthAdjust="spacingAndGlyphs" text-anchor="start" font-family="Liberation Serif, serif">N6,</text>
<text x="122.4" y="27.9" font-size="14" font-style="italic" textLength="9.0" lengthAdjust="spacingAndGlyphs" text-anchor="start" font-family="Liberation Serif, serif">β</text>
<text x="131.9" y="27.9" font-size="14" textLength="10.4" lengthAdjust="spacingAndGlyphs" text-anchor="start" font-family="Liberation Serif, serif">=</text>
<text x="142.5" y="27.9" font-size="14" textLength="22.3" lengthAdjust="spacingAndGlyphs" text-anchor="start" font-family="Liberation Serif, serif">5.5,</text>
<text x="170.7" y="27.9" font-size="14" font-style="italic" textLength="11.0" lengthAdjust="spacingAndGlyphs" text-anchor="start" font-family="Liberation Serif, serif">m</text>
<text x="182.7" y="30.4" font-size="9.5" font-style="italic" textLength="6.0" lengthAdjust="spacingAndGlyphs" text-anchor="start" font-family="Liberation Serif, serif">π</text>
<text x="193.8" y="27.9" font-size="14" textLength="10.4" lengthAdjust="spacingAndGlyphs" text-anchor="start" font-family="Liberation Serif, serif">=</text>
<text x="204.5" y="27.9" font-size="14" textLength="20.8" lengthAdjust="spacingAndGlyphs" text-anchor="start" font-family="Liberation Serif, serif">340</text>
<text x="230.5" y="27.9" font-size="14" textLength="30.8" lengthAdjust="spacingAndGlyphs" text-anchor="start" font-family="Liberation Serif, serif">MeV,</text>
<text x="268.4" y="27.9" font-size="14" font-style="italic" textLength="8.0" lengthAdjust="spacingAndGlyphs" text-anchor="start" font-family="Liberation Serif, serif">L</text>
<text x="278.6" y="27.9" font-size="14" textLength="10.4" lengthAdjust="spacingAndGlyphs" text-anchor="start" font-family="Liberation Serif, serif">=</text>
<text x="291.0" y="27.9" font-size="14" textLength="18.5" lengthAdjust="spacingAndGlyphs" text-anchor="start" font-family="Liberation Serif, serif">2.4</text>
<text x="314.9" y="27.9" font-size="14" textLength="14.0" lengthAdjust="spacingAndGlyphs" text-anchor="start" font-family="Liberation Serif, serif">fm</text>
</g>
<g class="ax">
<text x="174.0" y="308.5" font-size="17.2" font-style="italic" textLength="12.0" lengthAdjust="spacingAndGlyphs" text-anchor="start" font-family="Liberation Serif, serif">Q</text>
<text x="186.9" y="302.7" font-size="11" textLength="5.0" lengthAdjust="spacingAndGlyphs" text-anchor="start" font-family="Liberation Serif, serif">2</text>
<text x="204.6" y="309.4" font-size="19" text-anchor="start" font-family="Liberation Serif, serif">[</text>
<text x="209.3" y="308.5" font-size="17.2" textLength="30.9" lengthAdjust="spacingAndGlyphs" text-anchor="start" font-family="Liberation Serif, serif">GeV</text>
<text x="241.1" y="302.7" font-size="11" textLength="5.0" lengthAdjust="spacingAndGlyphs" text-anchor="start" font-family="Liberation Serif, serif">2</text>
<text x="245.4" y="309.4" font-size="19" text-anchor="start" font-family="Liberation Serif, serif">]</text>
<g transform="translate(34.4,185.2) rotate(-90)">
<text x="0" y="0" font-size="17.2" font-style="italic" textLength="13.2" lengthAdjust="spacingAndGlyphs" text-anchor="start" font-family="Liberation Serif, serif">G</text>
<text x="11.6" y="4.8" font-size="10.3" font-style="italic" textLength="12.0" lengthAdjust="spacingAndGlyphs" text-anchor="start" font-family="Liberation Serif, serif">M</text>
<text x="29.6" y="0.0" font-size="18.8" text-anchor="start" font-family="Liberation Serif, serif">(</text>
<text x="36.0" y="0" font-size="17.2" font-style="italic" textLength="12.0" lengthAdjust="spacingAndGlyphs" text-anchor="start" font-family="Liberation Serif, serif">Q</text>
<text x="48.5" y="-7.6" font-size="11" textLength="5.2" lengthAdjust="spacingAndGlyphs" text-anchor="start" font-family="Liberation Serif, serif">2</text>
<text x="52.3" y="0.0" font-size="18.8" text-anchor="start" font-family="Liberation Serif, serif">)</text>
</g>
</g>
<g class="lg">
<rect x="229.85" y="36.45" width="138.45000000000002" height="60.55" fill="#fff" fill-opacity="0.75" stroke="none"/>
<rect x="229.85" y="36.45" width="138.45000000000002" height="60.55" fill="none" stroke="#000" stroke-width="0.72"/>
<line x1="233.7" y1="44.6" x2="253.9" y2="44.6" stroke="#000" stroke-width="0.8"/>
<line x1="243.80" y1="54.15" x2="243.80" y2="64.35" stroke="#00008B" stroke-width="1.45"/><g stroke="#00008B" fill="#00008B"><line x1="241.60" y1="54.15" x2="246.00" y2="54.15" stroke-width="0.9"/><line x1="241.60" y1="64.35" x2="246.00" y2="64.35" stroke-width="0.9"/><circle cx="243.80" cy="59.25" r="2.0" stroke="none"/></g>
<line x1="243.80" y1="69.20" x2="243.80" y2="79.40" stroke="#8B0000" stroke-width="1.45"/><g stroke="#8B0000" fill="#8B0000"><line x1="241.60" y1="69.20" x2="246.00" y2="69.20" stroke-width="0.9"/><line x1="241.60" y1="79.40" x2="246.00" y2="79.40" stroke-width="0.9"/><circle cx="243.80" cy="74.30" r="2.0" stroke="none"/></g>
<line x1="243.80" y1="84.00" x2="243.80" y2="94.20" stroke="#009000" stroke-width="1.45"/><g stroke="#009000" fill="#009000"><line x1="241.60" y1="84.00" x2="246.00" y2="84.00" stroke-width="0.9"/><line x1="241.60" y1="94.20" x2="246.00" y2="94.20" stroke-width="0.9"/><circle cx="243.80" cy="89.10" r="2.0" stroke="none"/></g>
<text x="261.9" y="47.9" font-size="10.3" textLength="50.4" lengthAdjust="spacingAndGlyphs" text-anchor="start" font-family="Liberation Serif, serif">Experiment</text>
<text x="317.4" y="47.9" font-size="10.3" textLength="22.2" lengthAdjust="spacingAndGlyphs" text-anchor="start" font-family="Liberation Serif, serif">Kelly</text>
<text x="344.0" y="47.9" font-size="10.3" textLength="19.6" lengthAdjust="spacingAndGlyphs" text-anchor="start" font-family="Liberation Serif, serif">2004</text>
<text x="261.9" y="62.7" font-size="10.3" textLength="33.7" lengthAdjust="spacingAndGlyphs" text-anchor="start" font-family="Liberation Serif, serif">Plateau</text>
<text x="261.9" y="77.7" font-size="10.3" textLength="50.3" lengthAdjust="spacingAndGlyphs" text-anchor="start" font-family="Liberation Serif, serif">Summation</text>
<text x="261.9" y="92.6" font-size="10.3" textLength="70.8" lengthAdjust="spacingAndGlyphs" text-anchor="start" font-family="Liberation Serif, serif">Excited-state fit</text>
</g>
</svg>
</body></html>
